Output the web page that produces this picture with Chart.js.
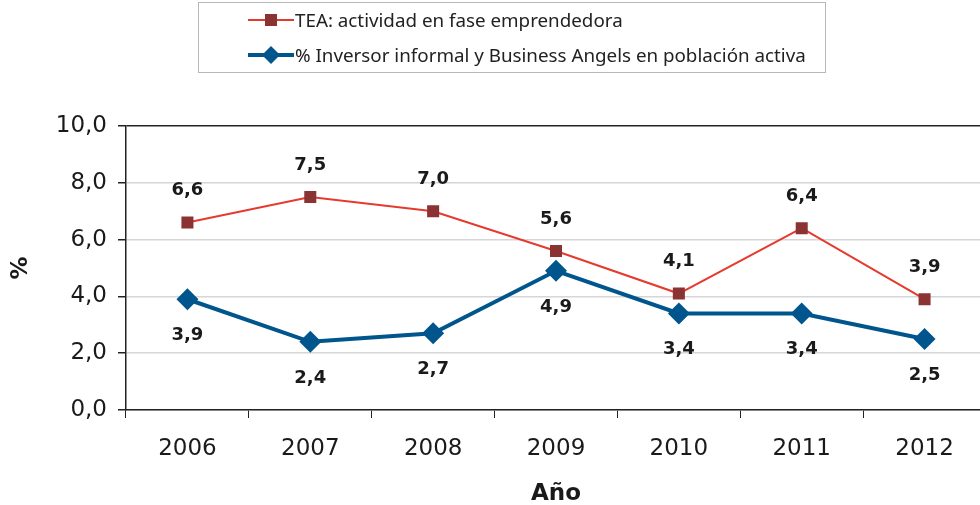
<!DOCTYPE html>
<html>
<head>
<meta charset="utf-8">
<script src="https://cdn.jsdelivr.net/npm/chart.js@4"></script>
<style>
  html, body { margin: 0; padding: 0; background: #fff; overflow: hidden; }
  #wrap { position: relative; width: 997px; height: 505px; }
  #legend {
    position: absolute; left: 198px; top: 2px; width: 626px; height: 69px;
    border: 1px solid #b8b8b8; font-family: "Noto Sans", sans-serif; font-size: 18.8px; color: #222;
  }
  .item { position: absolute; left: 49px; height: 24px; display: flex; align-items: center; white-space: nowrap; }
  .item svg { margin-right: 1px; }
</style>
</head>
<body>
<div id="wrap">
  <canvas id="myChart" width="997" height="505"></canvas>
  <div id="legend">
    <div class="item" style="top:5px">
      <svg width="46" height="14"><line x1="0" y1="7" x2="46" y2="7" stroke="#e63a2e" stroke-width="2"/><rect x="17" y="1" width="12" height="12" fill="#8b3232"/></svg>
      <span id="lab0"></span>
    </div>
    <div class="item" style="top:40px">
      <svg width="46" height="20"><line x1="0" y1="10" x2="46" y2="10" stroke="#00568c" stroke-width="4"/><polygon points="23,1 32,10 23,19 14,10" fill="#00568c"/></svg>
      <span id="lab1"></span>
    </div>
  </div>
</div>
<script>
const years = ['2006', '2007', '2008', '2009', '2010', '2011', '2012'];
const teaValues = [6.6, 7.5, 7.0, 5.6, 4.1, 6.4, 3.9];
const inversorValues = [3.9, 2.4, 2.7, 4.9, 3.4, 3.4, 2.5];
const seriesNames = ['TEA: actividad en fase emprendedora', '% Inversor informal y Business Angels en población activa'];
const yTicks = [0, 2, 4, 6, 8, 10];

document.getElementById('lab0').textContent = seriesNames[0];
document.getElementById('lab1').textContent = seriesNames[1];

const fmt = v => v.toFixed(1).replace('.', ',');
const fontFamily = '"DejaVu Sans", sans-serif';

// value labels: red above the point, blue below
const valueLabels = {
  id: 'valueLabels',
  afterDatasetsDraw(chart) {
    const c = chart.ctx;
    c.save();
    c.font = 'bold 18px ' + fontFamily;
    c.fillStyle = '#1a1a1a';
    c.textAlign = 'center';
    c.textBaseline = 'middle';
    chart.data.datasets.forEach((ds, i) => {
      chart.getDatasetMeta(i).data.forEach((pt, j) => {
        const dy = i === 0 ? -32 : 36;
        c.fillText(fmt(ds.data[j]), pt.x, pt.y + dy);
      });
    });
    c.restore();
  }
};

const ctx = document.getElementById('myChart');
if (ctx) {
  new Chart(ctx, {
    type: 'line',
    data: {
      labels: years,
      datasets: [{
        label: seriesNames[0],
        data: teaValues,
        borderColor: '#e63a2e',
        borderWidth: 2,
        pointStyle: 'rect',
        pointRadius: 8.5,
        pointBackgroundColor: '#8b3232',
        pointBorderWidth: 0,
        tension: 0
      }, {
        label: seriesNames[1],
        data: inversorValues,
        borderColor: '#00568c',
        borderWidth: 4,
        pointStyle: 'rectRot',
        pointRadius: 11,
        pointBackgroundColor: '#00568c',
        pointBorderWidth: 0,
        tension: 0
      }]
    },
    options: {
      responsive: false,
      animation: false,
      events: [],
      layout: { padding: { top: 126, left: 0, right: 0, bottom: 0 } },
      plugins: { legend: { display: false }, tooltip: { enabled: false } },
      scales: {
        x: {
          offset: true,
          grid: { offset: true, drawOnChartArea: false, drawTicks: true, tickLength: 8, tickColor: '#222' },
          border: { color: '#222', width: 1.5 },
          ticks: { color: '#1a1a1a', font: { family: fontFamily, size: 23 }, padding: 17 },
          title: { display: true, text: 'Año', color: '#1a1a1a', font: { family: fontFamily, size: 23, weight: 'bold' }, padding: { top: 17, bottom: -3 } },
          afterFit: s => { s.height = 95; }
        },
        y: {
          min: 0,
          max: 10,
          afterBuildTicks: s => { s.ticks = yTicks.map(v => ({ value: v })); },
          grid: {
            color: c => c.tick && c.tick.value === 10 ? '#222' : '#d6d6d6',
            lineWidth: 1.5,
            tickLength: 8,
            tickColor: '#222'
          },
          border: { color: '#222', width: 1.5 },
          ticks: { color: '#1a1a1a', font: { family: fontFamily, size: 23 }, padding: 11, callback: v => fmt(v) },
          title: { display: true, text: '%', color: '#1a1a1a', font: { family: fontFamily, size: 23, weight: 'bold' }, padding: { top: 7, bottom: 10 } },
          afterFit: s => { s.width = 126; }
        }
      }
    },
    plugins: [valueLabels]
  });
}
</script>
</body>
</html>
